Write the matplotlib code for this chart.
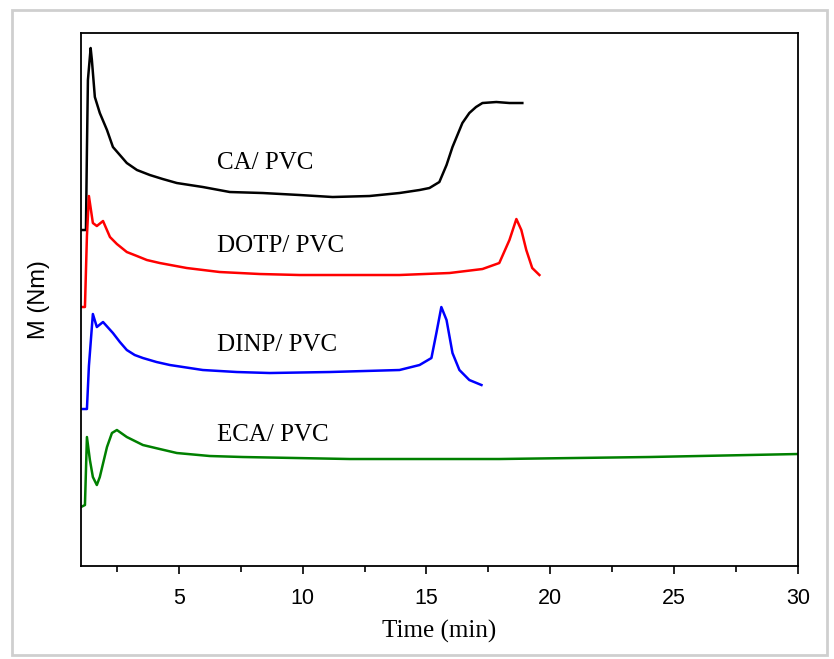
import matplotlib
matplotlib.use('Agg')
import matplotlib.pyplot as plt
from matplotlib.patches import Rectangle
from matplotlib.ticker import MultipleLocator

# torque curves, time (min) vs M (arbitrary units, no y scale shown)
ca_t = [1.05, 1.25, 1.29, 1.33, 1.44, 1.49, 1.61, 1.81, 2.10, 2.34, 2.62, 2.90, 3.31, 3.83,
        4.35, 4.92, 5.97, 7.06, 8.39, 9.88, 11.21, 12.70, 13.91, 14.72, 15.12, 15.52, 15.81,
        16.05, 16.45, 16.73, 17.00, 17.26, 17.82, 18.35, 18.87]
ca_m = [336, 336, 416, 486, 518, 506, 469, 453, 436, 419, 411, 403, 396, 391,
        387, 383, 379, 374, 373, 371, 369, 370, 373, 376, 378, 384, 401,
        419, 443, 453, 459, 463, 464, 463, 463]

dotp_t = [1.05, 1.21, 1.29, 1.37, 1.53, 1.69, 1.94, 2.22, 2.50, 2.90, 3.31, 3.71, 4.23, 5.32,
          6.65, 8.27, 9.88, 11.9, 13.91, 15.93, 17.26, 17.94, 18.35, 18.63, 18.83, 19.03,
          19.27, 19.56]
dotp_m = [259, 259, 330, 370, 343, 340, 345, 329, 322, 314, 310, 306, 303, 298,
          294, 292, 291, 291, 291, 293, 297, 303, 326, 347, 336, 316, 298, 291]

dinp_t = [1.05, 1.29, 1.37, 1.53, 1.69, 1.94, 2.34, 2.62, 2.90, 3.22, 3.55, 4.10, 4.64, 5.97,
          7.34, 8.67, 11.09, 13.91, 14.72, 15.20, 15.40, 15.60, 15.81, 16.05, 16.33, 16.73,
          17.22]
dinp_m = [157, 157, 200, 252, 239, 244, 233, 224, 216, 211, 208, 204, 201, 196,
          194, 193, 194, 196, 201, 208, 233, 259, 246, 213, 196, 186, 181]

eca_t = [1.05, 1.21, 1.29, 1.41, 1.53, 1.69, 1.81, 2.10, 2.30, 2.50, 2.90, 3.55, 4.23, 4.92,
         6.25, 7.58, 11.9, 17.94, 23.99, 30.0]
eca_m = [59, 61, 129, 106, 89, 81, 89, 119, 133, 136, 129, 121, 117, 113,
         110, 109, 107, 107, 109, 112]

labels = ['CA/ PVC', 'DOTP/ PVC', 'DINP/ PVC', 'ECA/ PVC']
label_y = [403, 320, 221, 131]
colors = ['black', 'red', 'blue', 'green']

fig = plt.figure(figsize=(8.34, 6.59), dpi=100)
ax = fig.add_axes([0.0971, 0.1411, 0.8597, 0.8088])

series = [(ca_t, ca_m), (dotp_t, dotp_m), (dinp_t, dinp_m), (eca_t, eca_m)]
for (t, m), c in zip(series, colors):
    ax.plot(t, m, color=c, linewidth=1.8)

for lab, y in zip(labels, label_y):
    ax.text(6.53, y, lab, fontsize=18, family='Liberation Serif', va='center', ha='left')

ax.set_xlim(1.05, 30)
ax.set_ylim(0, 533)
ax.xaxis.set_major_locator(MultipleLocator(5))
ax.xaxis.set_minor_locator(MultipleLocator(2.5))
ax.set_yticks([])
ax.tick_params(axis='x', which='major', length=6, width=1.2, labelsize=15.5, pad=10)
ax.tick_params(axis='x', which='minor', length=4, width=1.2)
for lab in ax.get_xticklabels():
    lab.set_family('Liberation Sans')
for s in ax.spines.values():
    s.set_linewidth(1.3)

ax.set_xlabel('Time (min)', fontsize=18, family='Liberation Serif', labelpad=8)
ax.set_ylabel('M (Nm)', fontsize=17, family='Liberation Sans', labelpad=22)

# light frame around the picture
fig.patches.append(Rectangle((12 / 834, 4 / 659), 815 / 834, 645 / 659, transform=fig.transFigure,
                             fill=False, edgecolor='#cfcfcf', linewidth=2))

plt.savefig('out.png', dpi=100)
